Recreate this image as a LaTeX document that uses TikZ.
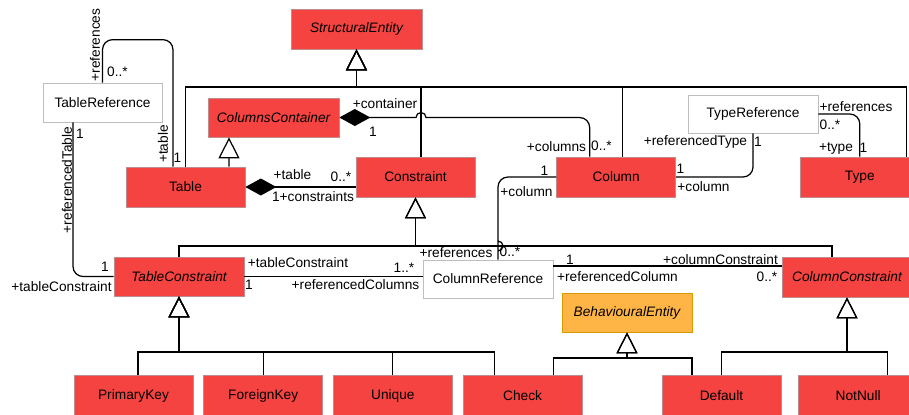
\documentclass[tikz,border=0pt]{standalone}
\usepackage{fontspec}
\setmainfont{Liberation Sans}
\usetikzlibrary{arrows.meta,positioning,calc}
\definecolor{umlred}{RGB}{244,67,64}
\definecolor{umledge}{RGB}{190,140,140}
\definecolor{refedge}{RGB}{190,190,190}
\definecolor{behfill}{RGB}{255,181,69}
\definecolor{behedge}{RGB}{215,155,0}
\newcommand{\umlfont}{\fontsize{7.8}{9.4}\selectfont}
\tikzset{
	umlbox/.style={rectangle, draw=umledge, fill=umlred, minimum width=2.38cm,
		minimum height=0.8cm, inner sep=0pt, font=\umlfont},
	absbox/.style={umlbox, font=\umlfont\itshape, minimum width=2.6cm, minimum height=0.78cm},
	refbox/.style={umlbox, fill=white, draw=refedge, minimum width=2.6cm, minimum height=0.76cm},
	behbox/.style={absbox, fill=behfill, draw=behedge},
	genarr/.style={-{Triangle[open, length=0.42cm, width=0.42cm]}, line width=0.7pt},
	comparr/.style={{Diamond[length=0.62cm, width=0.34cm]}-, line width=0.7pt},
	assoc/.style={line width=0.7pt, rounded corners=0.2cm},
	lbl/.style={font=\umlfont, inner sep=0pt}
}

\begin{document}
\begin{tikzpicture}[x=0.02cm, y=-0.02cm]
			\useasboundingbox (0,0) rectangle (909,414);
			\node[absbox, minimum width=2.62cm, minimum height=0.8cm] (sent) at (356.5,29) {StructuralEntity};
			\node[refbox, minimum width=2.38cm, minimum height=0.78cm] (tref) at (102.5,102.5) {TableReference};
			\node[absbox, minimum width=2.62cm] (ccont) at (273.5,117.5) {ColumnsContainer};
			\node[umlbox] (table) at (185.5,187) {Table};
			\node[umlbox] (cons) at (415.5,177) {Constraint};
			\node[umlbox, right=1.62cm of cons] (col) {Column};
			\node[umlbox, right=2.48cm of col] (type) {Type};
			\node[refbox] (tyref) at (753,114) {TypeReference};
			\node[absbox] (tcons) at (179,276.5) {TableConstraint};
			\node[refbox] (cref) at (488,279) {ColumnReference};
			\node[absbox, minimum height=0.8cm] (ccons) at (847,277) {ColumnConstraint};
			\node[behbox] (beh) at (627,312.5) {BehaviouralEntity};
			\node[umlbox] (pkey) at (133.5,395.5) {PrimaryKey};
			\node[umlbox, right=0.2cm of pkey] (fkey) {ForeignKey};
			\node[umlbox, right=0.2cm of fkey] (uniq) {Unique};
			\node[umlbox, right=0.2cm of uniq] (check) {Check};
			\node[umlbox] (dflt) at (721.5,395.5) {Default};
			\node[umlbox, right=0.34cm of dflt] (nnull) {NotNull};
			\coordinate (sebus) at (356.5,87);
			\coordinate (cbus) at (415.5,246);
			\coordinate (tcbus) at (179,352);
			\coordinate (bebus) at (627,358);
			\coordinate (ccbus) at (847,352);
			\coordinate (hopA) at (416,117.5);
			\coordinate (hopB1) at (498,240);
			\coordinate (hopB) at (498,241);
			\coordinate (crcc) at ($(cref.east)+(0,-13)$);
			\draw[genarr] (table.north) |- (sebus) -- (sent.south);
			\draw[genarr] ($(cons.north)+(5.5,0)$) |- (sebus) -- (sent.south);
			\draw[genarr] ($(col.north)+(6.5,0)$) |- (sebus) -- (sent.south);
			\draw[genarr] ($(type.north)+(47,0)$) |- (sebus) -- (sent.south);
			\draw[genarr] ($(table.north)+(43.5,0)$) -- ($(ccont.south)+(-44.5,0)$);
			\draw[comparr] (ccont.east) -- (hopA) arc[start angle=180, end angle=360, radius=5] -- ++(1,0)
				[rounded corners=0.2cm] -| ($(col.north)+(-26.5,0)$);
			\draw[comparr] (table.east) -- (table.east -| cons.west);
			\draw[assoc] (tref.north) -- ++(0,-43) -| ($(table.north)+(-12.5,0)$);
			\draw[assoc] ($(tref.south)+(-29.5,0)$) |- (tcons.west);
			\draw[genarr] (tcons.north) |- (cbus) -- (cons.south);
			\draw[genarr] ($(ccons.north)+(-15,0)$) |- (cbus) -- (cons.south);
			\draw[assoc] (col.west) -| (hopB1) [sharp corners] -- (hopB)
				arc[start angle=-90, end angle=90, radius=5] -- ($(cref.north)+(10,0)$);
			\draw[assoc] (tcons.east) -- (tcons.east -| cref.west);
			\draw[assoc] (crcc) -- (crcc -| ccons.west);
			\draw[assoc] (col.east) -| (tyref.south);
			\draw[assoc] (tyref.east) -| (type.north);
			\draw[genarr] ($(pkey.north)+(4.5,0)$) |- (tcbus) -- (tcons.south);
			\draw[genarr] (fkey.north) |- (tcbus) -- (tcons.south);
			\draw[genarr] (uniq.north) |- (tcbus) -- (tcons.south);
			\draw[genarr] ($(check.north)+(-28,0)$) |- (tcbus) -- (tcons.south);
			\draw[genarr] ($(check.north)+(31,0)$) |- (bebus) -- (beh.south);
			\draw[genarr] ($(dflt.north)+(-29.5,0)$) |- (bebus) -- (beh.south);
			\draw[genarr] (dflt.north) |- (ccbus) -- (ccons.south);
			\draw[genarr] ($(nnull.north)+(29.5,0)$) |- (ccbus) -- (ccons.south);
			\node[lbl, rotate=90] (lTrRefs) at (95,45) {+references};
			\node[lbl] (lTrMany) at (117.5,71.5) {0..*};
			\node[lbl, rotate=90] (lTrTable) at (163,144) {+table};
			\node[lbl] (lTrOne) at (177.5,157.5) {1};
			\node[lbl] (lCcCont) at (385,104) {+container};
			\node[lbl] (lCcOne) at (373,132) {1};
			\node[lbl] (lTbTable) at (292.5,175) {+table};
			\node[lbl] (lTbMany) at (341,177) {0..*};
			\node[lbl] (lTbCons) at (313,197) {1+constraints};
			\node[lbl] (lRtOne) at (80,134) {1};
			\node[lbl, rotate=90] (lRtRef) at (67,180) {+referencedTable};
			\node[lbl] (lRtOneB) at (105,267) {1};
			\node[lbl] (lRtTc) at (61.5,287) {+tableConstraint};
			\node[lbl] (lTcTc) at (298,263) {+tableConstraint};
			\node[lbl] (lTcOne) at (249,284.5) {1};
			\node[lbl] (lTcMany) at (404,268) {1..*};
			\node[lbl] (lTcRefs) at (355.5,284.5) {+referencedColumns};
			\node[lbl] (lCrRefs) at (456,253) {+references};
			\node[lbl] (lCrMany) at (510,252) {0..*};
			\node[lbl] (lCrOne) at (570,259.5) {1};
			\node[lbl] (lCrRef) at (617.5,277) {+referencedColumn};
			\node[lbl] (lCrCc) at (720.5,260) {+columnConstraint};
			\node[lbl] (lCrManyB) at (767,277) {0..*};
			\node[lbl] (lColOne) at (544.5,170.5) {1};
			\node[lbl] (lColCol) at (526.5,192) {+column};
			\node[lbl] (lColCols) at (556.5,147) {+columns};
			\node[lbl] (lColMany) at (601.5,146) {0..*};
			\node[lbl] (lTyOne) at (680.5,168.5) {1};
			\node[lbl] (lTyCol) at (703.5,187) {+column};
			\node[lbl] (lTyRef) at (695.5,142) {+referencedType};
			\node[lbl] (lTyOneB) at (758,142) {1};
			\node[lbl] (lTpRefs) at (856,107) {+references};
			\node[lbl] (lTpMany) at (830,125) {0..*};
			\node[lbl] (lTpType) at (836,148) {+type};
			\node[lbl] (lTpOne) at (863.5,148) {1};
\end{tikzpicture}
\end{document}
